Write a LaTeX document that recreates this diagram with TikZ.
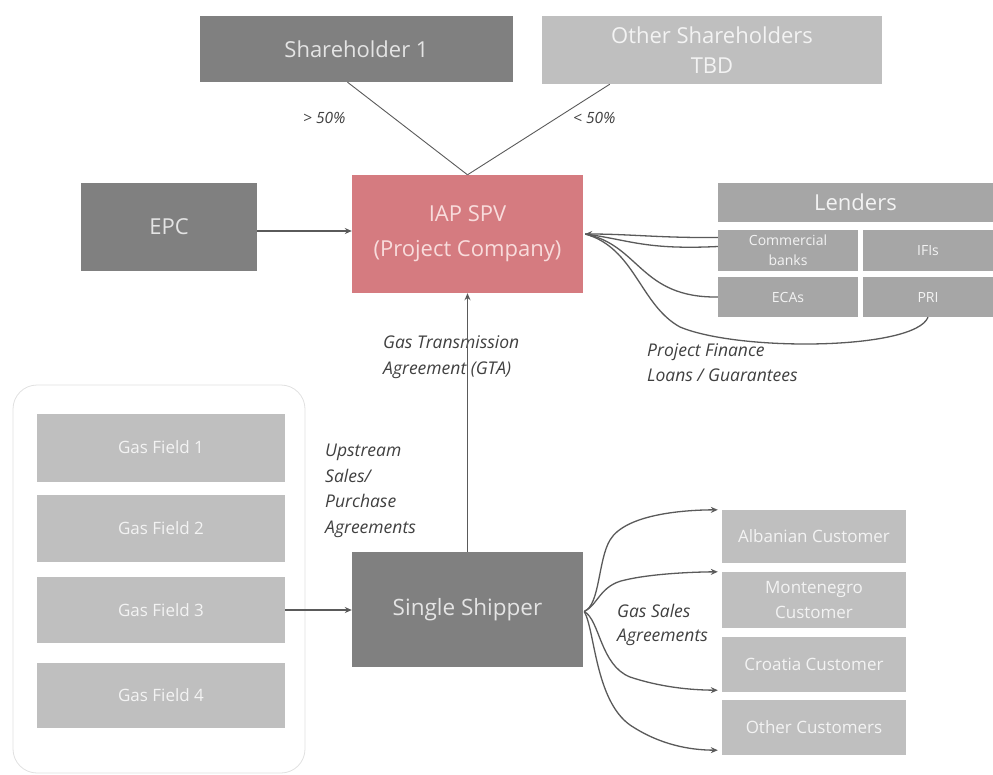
\documentclass[tikz,border=0pt]{standalone}
\usepackage{fontspec}
\setmainfont{Open Sans}
\usetikzlibrary{arrows.meta,calc}
\definecolor{dgray}{HTML}{808080}
\definecolor{lgray}{HTML}{BFBFBF}
\definecolor{mgray}{HTML}{A6A6A6}
\definecolor{spv}{HTML}{D57B80}
\definecolor{spvtext}{HTML}{F8DCDC}
\definecolor{conn}{HTML}{5A5A5A}
\definecolor{lbl}{HTML}{404040}
\definecolor{cont}{HTML}{E0E0E0}
\definecolor{dtext}{HTML}{E4E4E4}
\definecolor{ltext}{HTML}{F3F3F3}
\begin{document}
\begin{tikzpicture}[x=1pt,y=-1pt,
  box/.style={draw=none, inner sep=0pt, align=center},
  bigtxt/.style={font=\fontsize{22}{30}\selectfont},
  midtxt/.style={font=\fontsize{17}{25}\selectfont},
  smalltxt/.style={font=\fontsize{14}{20}\selectfont},
  darkbox/.style={box, fill=dgray, text=dtext},
  lightbox/.style={box, fill=lgray, text=ltext},
  lendbox/.style={box, fill=mgray, text=ltext},
  lab/.style={inner sep=0pt, align=left, text=lbl, font=\fontsize{17.5}{26}\selectfont\itshape},
  arr/.style={draw=conn, line width=1.3pt, -{Stealth[length=7pt,width=6pt]}},
  plain/.style={draw=conn, line width=1.3pt},
  thin/.style={draw=conn, line width=0.9pt}
]
\useasboundingbox (0,0) rectangle (993,774);

% shareholders
\node[darkbox, bigtxt, minimum width=313pt, minimum height=66pt] (sh1) at (356.5,49) {Shareholder 1};
\node[lightbox, bigtxt, minimum width=340pt, minimum height=68pt] (osh) at (712,50) {Other Shareholders\\TBD};

% project company and EPC
\node[box, fill=spv, text=spvtext, minimum width=231pt, minimum height=118pt, font=\fontsize{22}{35}\selectfont] (iap) at (467.5,234) {IAP SPV\\(Project Company)};
\node[darkbox, bigtxt, minimum width=176pt, minimum height=88pt] (epc) at (169,227) {EPC};

% lenders
\node[lendbox, bigtxt, minimum width=275pt, minimum height=39pt] (lend) at (855.5,202.5) {Lenders};
\node[lendbox, smalltxt, minimum width=140pt, minimum height=41pt] (cb) at (788,250.5) {Commercial\\banks};
\node[lendbox, smalltxt, minimum width=130pt, minimum height=41pt] (ifi) at (928,250.5) {IFIs};
\node[lendbox, smalltxt, minimum width=140pt, minimum height=40pt] (eca) at (788,297) {ECAs};
\node[lendbox, smalltxt, minimum width=130pt, minimum height=40pt] (pri) at (928,297) {PRI};

% gas fields
\node[draw=cont, line width=0.8pt, rounded corners=24pt, minimum width=292pt, minimum height=388pt, inner sep=0pt] (fields) at (159,579) {};
\node[lightbox, midtxt, minimum width=248pt, minimum height=68pt] (gf1) at (161,447.5) {Gas Field 1};
\node[lightbox, midtxt, minimum width=248pt, minimum height=67pt] (gf2) at (161,528.5) {Gas Field 2};
\node[lightbox, midtxt, minimum width=248pt, minimum height=66pt] (gf3) at (161,610) {Gas Field 3};
\node[lightbox, midtxt, minimum width=248pt, minimum height=65pt] (gf4) at (161,695.5) {Gas Field 4};

% single shipper
\node[darkbox, font=\fontsize{22.5}{26}\selectfont, minimum width=231pt, minimum height=115pt] (ss) at (467.5,609.5) {Single Shipper};

% customers
\node[lightbox, midtxt, minimum width=184pt, minimum height=53pt] (alb) at (814,536.5) {Albanian Customer};
\node[lightbox, midtxt, minimum width=184pt, minimum height=56pt] (mon) at (814,600) {Montenegro\\Customer};
\node[lightbox, midtxt, minimum width=184pt, minimum height=55pt] (cro) at (814,664.5) {Croatia Customer};
\node[lightbox, midtxt, minimum width=184pt, minimum height=55pt] (oth) at (814,727.5) {Other Customers};

% labels
\node[lab, font=\fontsize{15.5}{18}\selectfont\itshape, anchor=west] (p1) at (303,118) {> 50\%};
\node[lab, font=\fontsize{15.5}{18}\selectfont\itshape, anchor=west] (p2) at (573,118) {< 50\%};
\node[lab, anchor=west] (gta) at (383,357) {Gas Transmission\\Agreement (GTA)};
\node[lab, anchor=west, font=\fontsize{17.5}{25.5}\selectfont\itshape] (ups) at (325,491) {Upstream\\Sales/\\Purchase\\Agreements};
\node[lab, anchor=west, font=\fontsize{17.5}{24}\selectfont\itshape] (gsa) at (617,625) {Gas Sales\\Agreements};
\node[lab, anchor=west, font=\fontsize{17.5}{25}\selectfont\itshape] (pfl) at (647,362.5) {Project Finance\\Loans / Guarantees};

% ownership lines
\draw[thin] ($(sh1.south)+(-9,0)$) -- (iap.north);
\draw[thin] ($(osh.south west)+(68,0)$) -- (iap.north);

% arrows to SPV
\draw[arr] (epc.east |- 0,231) -- (iap.west |- 0,231);
\draw[arr] (ss.north) -- (iap.south);

% lenders to SPV
\coordinate (tip) at ($(iap.east)+(2,0)$);
\draw[arr] ($(cb.west)+(0,-13)$) .. controls (660,238) and (630,234) .. (tip);
\draw[plain] ($(cb.west)+(0,-4)$) .. controls (645,250) and (630,240) .. (tip);
\draw[plain] (eca.west) .. controls (640,298) and (640,245) .. (tip);
\draw[plain] (pri.south) .. controls (915,350) and (740,352) .. (680,327) .. controls (640,305) and (635,248) .. (tip);

% gas field to shipper
\draw[arr] (gf3.east) -- (gf3.east -| ss.west);

% shipper to customers
\coordinate (o) at ($(ss.east)+(1,2)$);
\draw[arr] (o) .. controls (600,605) and (598,560) .. (610,540) .. controls (625,515) and (680,510) .. ($(alb.north west)+(-4,0)$);
\draw[arr] (o) .. controls (598,605) and (600,585) .. (625,580) .. controls (650,574) and (690,572) .. ($(mon.north west)+(-4,0)$);
\draw[arr] (o) .. controls (600,620) and (600,665) .. (630,677) .. controls (660,687) and (690,690) .. ($(cro.south west)+(-4,-2)$);
\draw[arr] (o) .. controls (595,630) and (595,700) .. (630,725) .. controls (660,745) and (690,750) .. ($(oth.south west)+(-4,-5)$);
\end{tikzpicture}
\end{document}
